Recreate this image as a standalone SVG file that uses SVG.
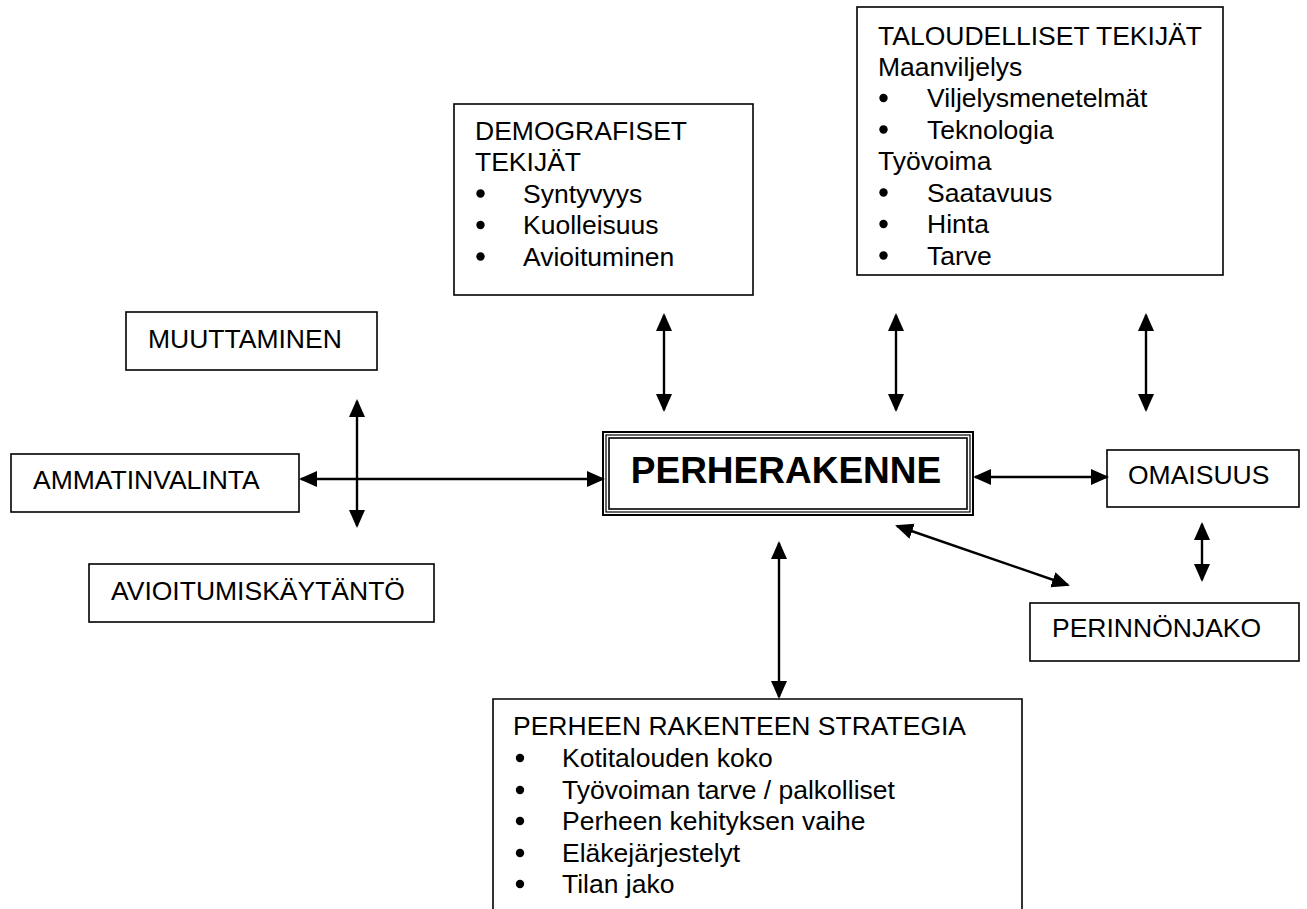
<svg xmlns="http://www.w3.org/2000/svg" width="1307" height="909" viewBox="0 0 1307 909">
  <style>
    .box { fill: #fff; stroke: #000; stroke-width: 1.6; }
    .t { font-family: "Liberation Sans", Arial, sans-serif; font-size: 26.5px; fill: #000; }
    .big { font-family: "Liberation Sans", Arial, sans-serif; font-size: 37px; font-weight: bold; fill: #000; }
    .bul { fill: #000; }
    .conn { stroke: #000; stroke-width: 2.4; fill: none; marker-start: url(#ah); marker-end: url(#ah); }
  </style>
  <defs>
    <marker id="ah" markerUnits="userSpaceOnUse" markerWidth="18" markerHeight="17" viewBox="0 0 18 17" refX="16" refY="8" orient="auto-start-reverse">
      <path d="M0,0 L18,8 L0,16 z" fill="#000"/>
    </marker>
  </defs>
  <rect width="1307" height="909" fill="#fff"/>

  <g id="demografiset">
    <rect class="box" x="454" y="104" width="299" height="191"/>
    <text class="t" x="475" y="139.5">DEMOGRAFISET</text>
    <text class="t" x="475" y="171">TEKIJÄT</text>
    <circle class="bul" cx="480.5" cy="193.5" r="4.2"/>
    <text class="t" x="523" y="202.5">Syntyvyys</text>
    <circle class="bul" cx="480.5" cy="225" r="4.2"/>
    <text class="t" x="523" y="234">Kuolleisuus</text>
    <circle class="bul" cx="480.5" cy="256.5" r="4.2"/>
    <text class="t" x="523" y="265.5">Avioituminen</text>
  </g>

  <g id="taloudelliset">
    <rect class="box" x="857" y="7" width="366" height="268"/>
    <text class="t" x="878" y="44.5">TALOUDELLISET TEKIJÄT</text>
    <text class="t" x="878" y="75.5">Maanviljelys</text>
    <circle class="bul" cx="883.5" cy="98" r="4.2"/>
    <text class="t" x="927" y="107">Viljelysmenetelmät</text>
    <circle class="bul" cx="883.5" cy="129.5" r="4.2"/>
    <text class="t" x="927" y="138.5">Teknologia</text>
    <text class="t" x="878" y="170">Työvoima</text>
    <circle class="bul" cx="883.5" cy="192.5" r="4.2"/>
    <text class="t" x="927" y="201.5">Saatavuus</text>
    <circle class="bul" cx="883.5" cy="224" r="4.2"/>
    <text class="t" x="927" y="233">Hinta</text>
    <circle class="bul" cx="883.5" cy="255.5" r="4.2"/>
    <text class="t" x="927" y="264.5">Tarve</text>
  </g>

  <g id="muuttaminen">
    <rect class="box" x="126" y="312" width="251" height="58"/>
    <text class="t" x="148" y="348">MUUTTAMINEN</text>
  </g>

  <g id="ammatinvalinta">
    <rect class="box" x="11" y="454" width="288" height="58"/>
    <text class="t" x="33" y="489">AMMATINVALINTA</text>
  </g>

  <g id="avioitumiskaytanto">
    <rect class="box" x="89" y="564" width="345" height="58"/>
    <text class="t" x="111" y="600">AVIOITUMISKÄYTÄNTÖ</text>
  </g>

  <g id="perherakenne">
    <rect x="603" y="432" width="370" height="83" fill="#fff" stroke="#000" stroke-width="2"/>
    <rect x="606" y="435" width="364" height="77" fill="none" stroke="#000" stroke-width="1.2"/>
    <rect x="609" y="438" width="358" height="71" fill="none" stroke="#000" stroke-width="1.6"/>
    <text class="big" x="786" y="483" text-anchor="middle">PERHERAKENNE</text>
  </g>

  <g id="omaisuus">
    <rect class="box" x="1107" y="450" width="192" height="57"/>
    <text class="t" x="1128" y="484">OMAISUUS</text>
  </g>

  <g id="perinnonjako">
    <rect class="box" x="1030" y="603" width="269" height="58"/>
    <text class="t" x="1052" y="637">PERINNÖNJAKO</text>
  </g>

  <g id="strategia">
    <path class="box" d="M493,920 L493,699 L1022,699 L1022,920"/>
    <text class="t" x="513" y="735">PERHEEN RAKENTEEN STRATEGIA</text>
    <circle class="bul" cx="520" cy="758" r="4.2"/>
    <text class="t" x="562" y="767">Kotitalouden koko</text>
    <circle class="bul" cx="520" cy="790" r="4.2"/>
    <text class="t" x="562" y="799">Työvoiman tarve / palkolliset</text>
    <circle class="bul" cx="520" cy="821" r="4.2"/>
    <text class="t" x="562" y="830">Perheen kehityksen vaihe</text>
    <circle class="bul" cx="520" cy="853" r="4.2"/>
    <text class="t" x="562" y="862">Eläkejärjestelyt</text>
    <circle class="bul" cx="520" cy="884" r="4.2"/>
    <text class="t" x="562" y="893">Tilan jako</text>
  </g>

  <g id="connectors">
    <line class="conn" x1="357" y1="401" x2="357" y2="526"/>
    <line class="conn" x1="301" y1="479" x2="603" y2="479"/>
    <line class="conn" x1="664" y1="315" x2="664" y2="410"/>
    <line class="conn" x1="896" y1="315" x2="896" y2="410"/>
    <line class="conn" x1="1146" y1="315" x2="1146" y2="410"/>
    <line class="conn" x1="975" y1="477" x2="1107" y2="477"/>
    <line class="conn" x1="1202" y1="524" x2="1202" y2="580"/>
    <line class="conn" x1="897" y1="526" x2="1068" y2="585"/>
    <line class="conn" x1="779" y1="543" x2="779" y2="697"/>
  </g>
</svg>
